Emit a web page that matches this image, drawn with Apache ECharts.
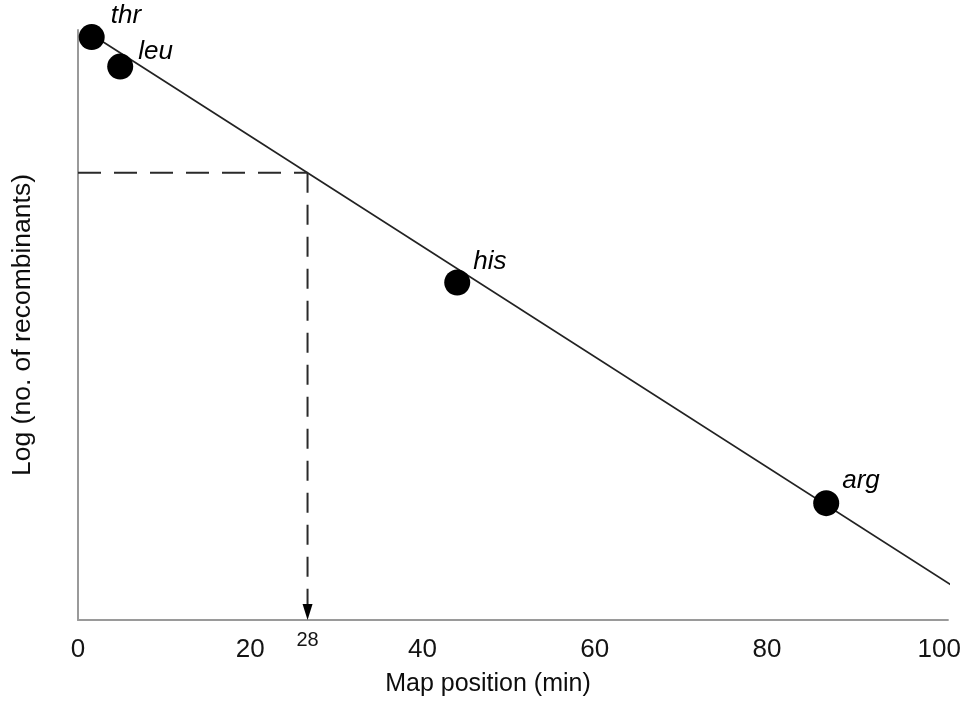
<!DOCTYPE html>
<html>
<head>
<meta charset="utf-8">
<script src="https://cdn.jsdelivr.net/npm/echarts@6/dist/echarts.min.js"></script>
<style>
html,body{margin:0;padding:0;background:#fff;}
#chart{width:964px;height:704px;}
</style>
</head>
<body>
<div id="chart"></div>
<script>
// ---- data ----
var genes = ['thr', 'leu', 'his', 'arg'];
var genePosX = [1.59, 4.90, 44.03, 86.87];
var geneLogY = [9.88, 9.38, 5.72, 1.98];

var fitX = [1.62, 101.5];
var fitY = [9.92, 0.58];

var guideX = 26.65;
var guideY = 7.58;
var guideLabel = '28';

var xTicks = [0, 20, 40, 60, 80, 100];

var xTitle = 'Map position (min)';
var yTitle = 'Log (no. of recombinants)';

// ---- styling (per-gene label offsets) ----
var labelOffsets = {
  thr: [6, -21],
  leu: [5, -15],
  his: [3, -21],
  arg: [3, -22]
};

var chart = echarts.init(document.getElementById('chart'), null, {renderer: 'canvas'});

var scatterData = genes.map(function (g, i) {
  return {
    name: g,
    value: [genePosX[i], geneLogY[i]],
    label: {offset: labelOffsets[g]}
  };
});

var option = {
  animation: false,
  backgroundColor: '#ffffff',
  grid: {left: 78, right: 15, top: 30, bottom: 84, containLabel: false},
  xAxis: {
    type: 'value',
    min: 0,
    max: 101,
    interval: 20,
    name: xTitle,
    nameLocation: 'middle',
    nameGap: 52,
    nameTextStyle: {
      fontFamily: 'Liberation Sans, Arial, sans-serif',
      fontSize: 25,
      color: '#0d0d0d',
      padding: [0, 50, 0, 0]
    },
    axisLine: {show: true, onZero: false, lineStyle: {color: '#9a9a9a', width: 2}},
    axisTick: {show: false},
    splitLine: {show: false},
    axisLabel: {
      margin: 17,
      fontFamily: 'Liberation Sans, Arial, sans-serif',
      fontSize: 26,
      color: '#141414',
      formatter: function (v) {
        return xTicks.indexOf(v) >= 0 ? String(v) : '';
      }
    }
  },
  yAxis: {
    type: 'value',
    min: 0,
    max: 10,
    name: yTitle,
    nameLocation: 'middle',
    nameGap: 42,
    nameRotate: 90,
    nameTextStyle: {
      fontFamily: 'Liberation Sans, Arial, sans-serif',
      fontSize: 26.5,
      color: '#0d0d0d'
    },
    axisLine: {show: true, onZero: false, lineStyle: {color: '#9a9a9a', width: 2}},
    axisTick: {show: false},
    axisLabel: {show: false},
    splitLine: {show: false}
  },
  series: [
    {
      type: 'line',
      name: 'fit',
      data: fitX.map(function (x, i) { return [x, fitY[i]]; }),
      symbol: 'none',
      clip: false,
      lineStyle: {color: '#222', width: 1.7},
      silent: true,
      z: 2
    },
    {
      type: 'line',
      name: 'guideH',
      data: [[0, guideY], [guideX, guideY]],
      symbol: 'none',
      lineStyle: {color: '#2a2a2a', width: 2, type: [23, 13]},
      silent: true,
      z: 2
    },
    {
      type: 'line',
      name: 'guideV',
      data: [[guideX, guideY], [guideX, 0]],
      symbol: 'none',
      lineStyle: {color: '#2a2a2a', width: 2, type: [20, 12]},
      silent: true,
      z: 2
    },
    {
      type: 'scatter',
      name: 'arrow',
      data: [[guideX, 0]],
      symbol: 'path://M0,0 L10,0 L5,16 Z',
      symbolSize: [10, 16],
      symbolOffset: [0, '-50%'],
      itemStyle: {color: '#000', opacity: 1},
      clip: false,
      label: {
        show: true,
        position: 'bottom',
        distance: 10,
        formatter: guideLabel,
        fontFamily: 'Liberation Sans, Arial, sans-serif',
        fontSize: 20,
        color: '#141414'
      },
      silent: true,
      z: 3
    },
    {
      type: 'scatter',
      name: 'genes',
      data: scatterData,
      symbol: 'circle',
      symbolSize: 26,
      clip: false,
      itemStyle: {color: '#000', opacity: 1},
      label: {
        show: true,
        position: 'right',
        distance: 0,
        formatter: '{b}',
        fontFamily: 'Liberation Sans, Arial, sans-serif',
        fontStyle: 'italic',
        fontSize: 26,
        color: '#000',
        opacity: 1
      },
      z: 4
    }
  ]
};

chart.setOption(option);
</script>
</body>
</html>
